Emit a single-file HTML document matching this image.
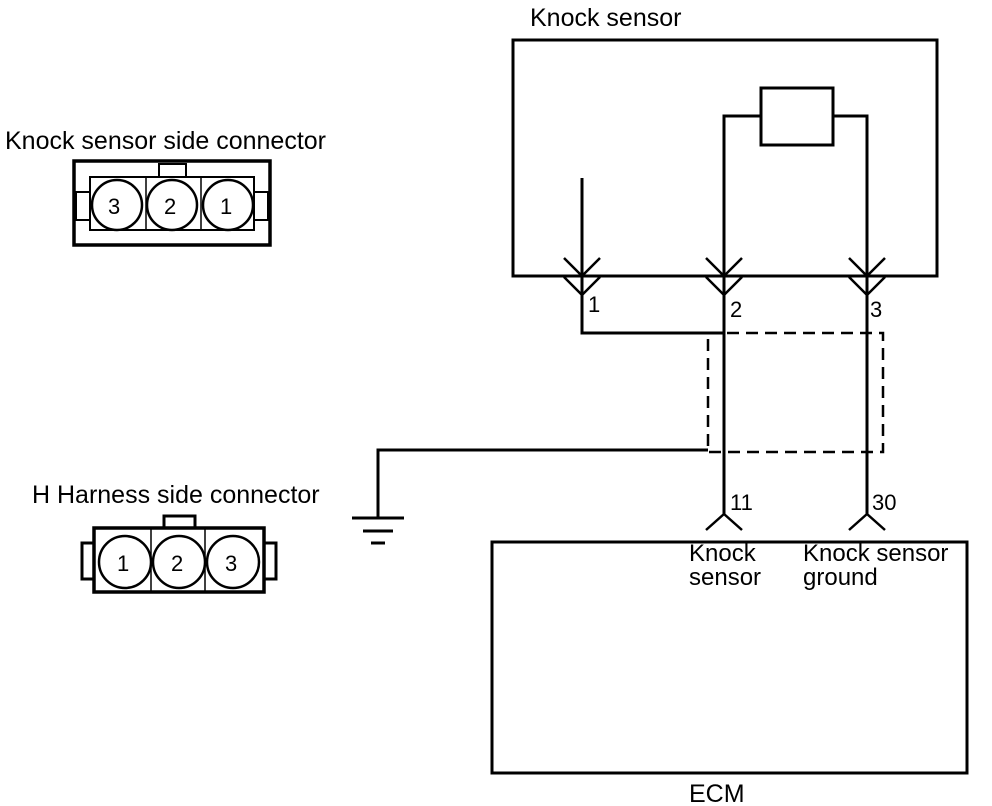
<!DOCTYPE html>
<html><head><style>
body{margin:0;background:#fff}
svg{display:block}
text{font-family:"Liberation Sans",Arial,sans-serif;fill:#000}
</style></head><body>
<svg width="992" height="806" viewBox="0 0 992 806">
<g fill="none" stroke="#000" stroke-width="3">
<rect x="513" y="40" width="424" height="236"/>
<rect x="761" y="88" width="72" height="57"/>
<polyline points="761,116 724,116 724,515"/>
<polyline points="833,116 867,116 867,515"/>
<polyline points="582,178 582,333 724,333"/>
<g stroke-width="2.5">
<polyline points="564,258 582,276 600,258"/><polyline points="564,277 582,295 600,277"/>
<polyline points="706,258 724,276 742,258"/><polyline points="706,277 724,295 742,277"/>
<polyline points="849,258 867,276 885,258"/><polyline points="849,277 867,295 885,277"/>
<polyline points="706,530 724,514 742,530"/>
<polyline points="849,530 867,514 885,530"/>
</g>
<path d="M708,333 H883 V452 H708 Z" stroke-width="2.5" stroke-dasharray="12,7"/>
<polyline points="708,450 378,450 378,518"/>
<line x1="352" y1="518" x2="404" y2="518"/>
<line x1="363" y1="531" x2="393" y2="531"/>
<line x1="371" y1="543" x2="385" y2="543"/>
<rect x="492" y="542" width="475" height="231"/>
<rect x="74" y="161" width="196" height="84" stroke-width="3.5"/>
<rect x="90" y="177" width="164" height="53" stroke-width="2"/>
<rect x="159" y="164" width="27" height="13" stroke-width="2"/>
<rect x="76" y="192" width="14" height="28" stroke-width="2"/>
<rect x="254" y="192" width="14" height="28" stroke-width="2"/>
<line x1="146" y1="177" x2="146" y2="230" stroke-width="1.5"/>
<line x1="201" y1="177" x2="201" y2="230" stroke-width="1.5"/>
<circle cx="117" cy="205" r="25" stroke-width="2.5"/>
<circle cx="172" cy="205" r="25" stroke-width="2.5"/>
<circle cx="228" cy="205" r="25" stroke-width="2.5"/>
<rect x="94" y="528" width="170" height="64" stroke-width="3.5"/>
<rect x="164" y="516" width="31" height="12" stroke-width="3"/>
<rect x="82" y="543" width="12" height="36" stroke-width="3"/>
<rect x="264" y="543" width="12" height="36" stroke-width="3"/>
<line x1="151" y1="528" x2="151" y2="592" stroke-width="1.5"/>
<line x1="205" y1="528" x2="205" y2="592" stroke-width="1.5"/>
<circle cx="125" cy="562" r="26" stroke-width="2.5"/>
<circle cx="179" cy="562" r="26" stroke-width="2.5"/>
<circle cx="233" cy="562" r="26" stroke-width="2.5"/>
</g>
<g font-size="25">
<text x="530" y="26">Knock sensor</text>
<text x="5" y="149">Knock sensor side connector</text>
<text x="32" y="503">H Harness side connector</text>
<text x="689" y="802">ECM</text>
</g>
<g font-size="24">
<text x="689" y="561">Knock</text>
<text x="689" y="585">sensor</text>
<text x="803" y="561">Knock sensor</text>
<text x="803" y="585">ground</text>
</g>
<g font-size="22">
<text x="588" y="312">1</text>
<text x="730" y="317">2</text>
<text x="870" y="317">3</text>
<text x="730" y="510">11</text>
<text x="872" y="510">30</text>
<text x="108" y="214">3</text>
<text x="164" y="214">2</text>
<text x="220" y="214">1</text>
<text x="117" y="571">1</text>
<text x="171" y="571">2</text>
<text x="225" y="571">3</text>
</g>
</svg>
</body></html>
